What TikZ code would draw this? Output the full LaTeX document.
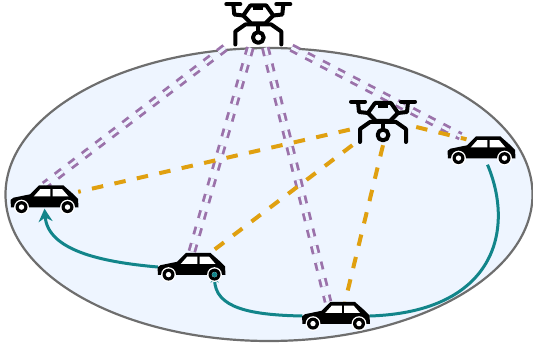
\documentclass[tikz,border=0pt]{standalone}
\usepackage{xcolor}
\usetikzlibrary{shapes.geometric,arrows.meta,calc}
\definecolor{cellblue}{RGB}{238,245,255}
\definecolor{cellgray}{RGB}{110,110,110}
\definecolor{linkpurple}{RGB}{155,114,170}
\definecolor{linkorange}{RGB}{224,160,16}
\definecolor{pathteal}{RGB}{18,133,138}
\tikzset{
	carbox/.style={rectangle, minimum width=67pt, minimum height=28pt, inner sep=0pt},
	dronebox/.style={rectangle, minimum width=66pt, minimum height=46pt, inner sep=0pt},
	airlink/.style={linkpurple, line width=2.8pt, double=cellblue, double distance=3pt, dash pattern=on 8pt off 9pt},
	ranlink/.style={linkorange, line width=4pt, dash pattern=on 11.5pt off 11.5pt},
	carpath/.style={pathteal, line width=3pt},
	carpic/.pic={
		\fill[black] (-34,0.5) -- (-33.5,8) -- (34,8) -- (33.5,-0.5) -- (29,-5.2) -- (19,-14) -- (-5.6,-14) -- (-14.5,-5.2) -- (-31,-1.8) -- cycle;
		\fill[white] (-10.8,-3) -- (-4.2,-10.4) -- (5.8,-10.4) -- (5.8,-3) -- cycle;
		\fill[white] (8.2,-10.4) -- (17.6,-10.4) -- (24,-3) -- (8.2,-3) -- cycle;
		\foreach \wx in {-23,23} {
			\fill[white] (\wx,7.6) circle (7.4);
			\fill[black] (\wx,7.6) circle (6);
			\fill[white] (\wx,7.6) circle (2.7);
		}
	},
	dronepic/.pic={
		\begin{scope}[black, line width=4pt, line cap=round, line join=round]
			\draw (-32,-20.3) -- (-18,-20.3);
			\draw (18,-20.3) -- (32,-20.3);
			\draw (-25,-20) -- (-24,-10) -- (-15,-9);
			\draw (25,-20) -- (24,-10) -- (15,-9);
			\draw (-15,-9) -- (-8,-19) -- (8,-19) -- (15,-9) -- (7,-1) -- (-7,-1) -- cycle;
			\fill (-5,-18) rectangle (5,-14);
			\draw (-23,20) -- (-23,7) -- (-13,0) -- (13,0) -- (23,7) -- (23,20);
			\draw (0,0) -- (0,7);
			\draw (0,13) circle (5.4);
		\end{scope}
	}
}
\begin{document}
\begin{tikzpicture}[x=1pt,y=-1pt]
	\useasboundingbox (0,0) rectangle (533,347);
	% Coverage cell
	\node[draw=cellgray, fill=cellblue, line width=2.2pt, ellipse, minimum width=527pt, minimum height=293pt, inner sep=0pt] (cell) at (269,194.5) {};

	% Drones and cars
	\node[dronebox] (droneA) at (258.3,24.5) {};
	\node[dronebox] (droneB) at (383,122) {};
	\node[carbox] (car1) at (44.5,199.5) {};
	\node[carbox] (car2) at (191.5,267) {};
	\node[carbox] (car3) at (336,316) {};
	\node[carbox] (car4) at (481.5,150.5) {};
	\coordinate (hub2) at (214.5,274.6);

	% Links from the high drone
	\draw[airlink] (droneA.south west) -- (car1.north);
	\draw[airlink] ([xshift=-8pt]droneA.south) -- (car2.north);
	\draw[airlink] ([xshift=7pt]droneA.south) -- ([xshift=-8pt]car3.north);
	\draw[airlink] (droneA.south east) -- ([xshift=-21pt]car4.north);

	% Links from the low drone
	\draw[ranlink] (droneB) -- (car1);
	\draw[ranlink] (droneB) -- (car2);
	\draw[ranlink] (droneB.south) -- ([xshift=9pt]car3.north);
	\draw[ranlink] ([yshift=-5pt]droneB.east) -- ([xshift=-15pt,yshift=-3pt]car4.north);

	% Car paths
	\draw[carpath] ([xshift=6pt]car4.south) .. controls (515,230) and (495,312) .. (car3.east);
	\draw[carpath, -{Stealth[length=8pt,width=8pt]}] (car3.west) .. controls (250,315) and (215,308) .. (hub2);
	\draw[carpath, -{Stealth[length=13pt,width=14pt]}] (car2.west) .. controls (100,262) and (48,250) .. ([yshift=5pt]car1.south);

	% Pictures over the nodes
	\pic at (droneA) {dronepic};
	\pic at (droneB) {dronepic};
	\pic at (car1) {carpic};
	\pic at (car2) {carpic};
	\pic at (car3) {carpic};
	\pic at (car4) {carpic};
	\fill[pathteal] (hub2) circle (2.6);
\end{tikzpicture}
\end{document}
